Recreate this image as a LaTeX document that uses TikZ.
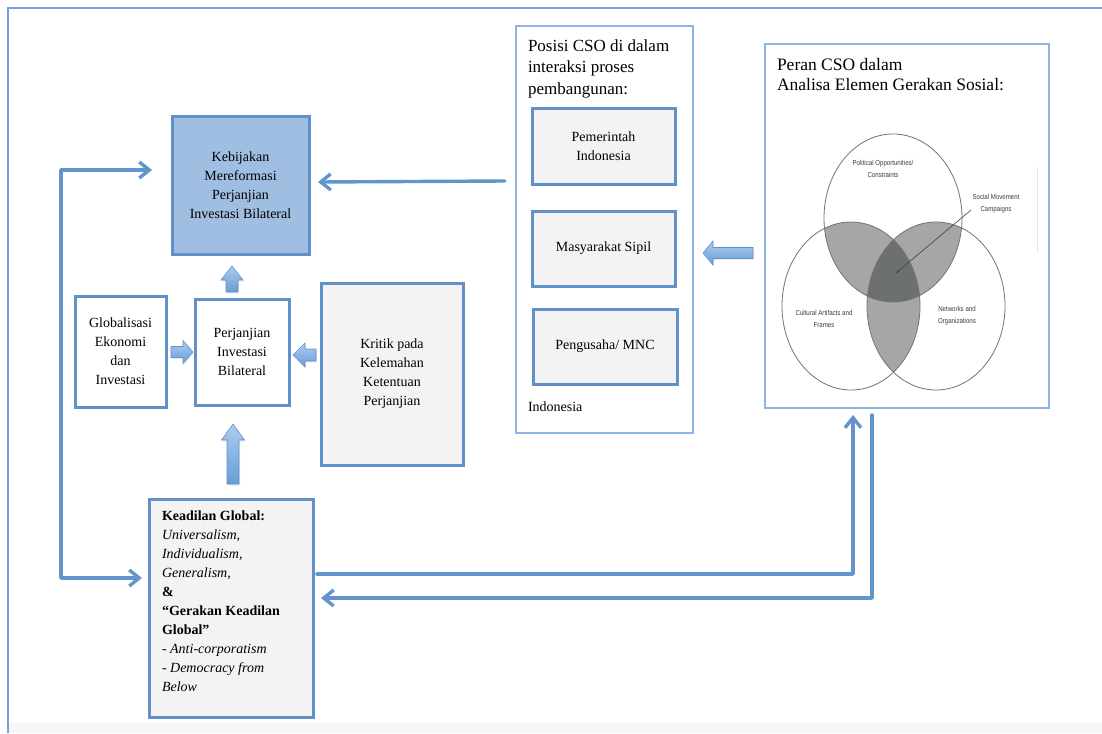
\documentclass[tikz,border=0pt]{standalone}
\usepackage{fontspec}
\setmainfont{Liberation Serif}
\newfontfamily\vennfont[FakeStretch=0.85]{Liberation Sans}
\usetikzlibrary{arrows.meta,calc,shadows}
\definecolor{frameblue}{RGB}{122,160,214}
\definecolor{boxblue}{RGB}{98,144,200}
\definecolor{kebfill}{RGB}{160,190,226}
\definecolor{boxgray}{RGB}{243,243,243}
\definecolor{lightblue}{RGB}{141,180,226}
\definecolor{connblue}{RGB}{100,148,204}
\definecolor{arrtop}{RGB}{172,205,240}
\definecolor{arrbot}{RGB}{104,156,214}
\definecolor{lensgray}{RGB}{166,166,166}
\definecolor{coregray}{RGB}{108,112,112}
\definecolor{bandgray}{RGB}{246,246,246}
\definecolor{venntext}{RGB}{60,60,60}
\begin{document}
\begin{tikzpicture}[x=1pt,y=-1pt,
  every node/.style={inner sep=0pt,outer sep=0pt},
  boxstyle/.style={draw=boxblue,line width=3pt,align=center,font=\fontsize{14}{19}\selectfont},
  outerbox/.style={draw=lightblue,line width=1.6pt,fill=white},
  conn/.style={draw=connblue,line width=3.4pt,line cap=round,line join=round,-{Straight Barb[length=10pt,width=16pt]}},
  loopconn/.style={draw=connblue,line width=3.4pt,line cap=round,line join=round,{Straight Barb[length=10pt,width=16pt]}-{Straight Barb[length=10pt,width=16pt]}},
  blockarr/.style={draw=boxblue,line width=0.6pt,top color=arrtop,bottom color=arrbot,drop shadow={opacity=0.15,shadow xshift=1pt,shadow yshift=-1.5pt}},
  vennlabel/.style={align=center,text=venntext,font=\vennfont\fontsize{7.2}{12}\selectfont},
  vennline/.style={draw=black!55,line width=0.8pt},
  titletext/.style={align=left,anchor=north west,font=\fontsize{17}{21.5}\selectfont}
]
\useasboundingbox (0,0) rectangle (1102,733);
% background frame
\fill[bandgray] (9,723) rectangle (1102,733);
\draw[frameblue,line width=1.8pt] (1102,8) -- (8,8) -- (8,733);

% left column boxes
\node[boxstyle,fill=kebfill,minimum width=137pt,minimum height=137pt] (kebijakan) at (240.5,185.5)
  {Kebijakan\\Mereformasi\\Perjanjian\\Investasi Bilateral};
\node[boxstyle,fill=white,minimum width=91pt,minimum height=111pt] (global) at (120.5,351.5)
  {Globalisasi\\Ekonomi\\dan\\Investasi};
\node[boxstyle,fill=white,minimum width=94pt,minimum height=106pt] (perjanjian) at (242,352)
  {Perjanjian\\Investasi\\Bilateral};
\node[boxstyle,fill=boxgray,minimum width=142pt,minimum height=182pt] (kritik) at (392,374)
  {Kritik pada\\Kelemahan\\Ketentuan\\Perjanjian};
\node[boxstyle,fill=boxgray,minimum width=164pt,minimum height=218pt] (keadilan) at (231,608) {};
\node[anchor=north west,align=left,font=\fontsize{14}{19}\selectfont] (keadilantext) at (162,511)
  {\textbf{Keadilan Global:}\\
   \textit{Universalism,}\\
   \textit{Individualism,}\\
   \textit{Generalism,}\\
   \textbf{\&}\\
   \textbf{“Gerakan Keadilan}\\
   \textbf{Global”}\\
   \textit{- Anti-corporatism}\\
   \textit{- Democracy from}\\
   \textit{Below}};

% Posisi CSO box
\node[outerbox,minimum width=177pt,minimum height=407pt] (posisi) at (604.5,229.5) {};
\node[titletext] (posisititle) at (528,39.5) {Posisi CSO di dalam\\interaksi proses\\pembangunan:};
\node[boxstyle,fill=boxgray,minimum width=143pt,minimum height=75pt] (pemerintah) at (603.5,146.5)
  {Pemerintah\\Indonesia};
\node[boxstyle,fill=boxgray,minimum width=143pt,minimum height=75pt] (masyarakat) at (603.5,248.5)
  {Masyarakat Sipil};
\node[boxstyle,fill=boxgray,minimum width=144pt,minimum height=75pt] (pengusaha) at (605,346.5)
  {Pengusaha/ MNC};
\node[anchor=west,font=\fontsize{14}{19}\selectfont] (indonesia) at (528,407) {Indonesia};

% Peran CSO box
\node[outerbox,minimum width=284pt,minimum height=364pt] (peran) at (907,226) {};
\node[titletext,font=\fontsize{17.5}{20}\selectfont] (peranitle) at (777,58.5) {Peran CSO dalam\\Analisa Elemen Gerakan Sosial:};

% Venn diagram
\coordinate (vt) at (893,218);
\coordinate (vl) at (851,306);
\coordinate (vr) at (936,306);
\begin{scope}
  \clip (vt) ellipse [x radius=69pt,y radius=84pt];
  \fill[lensgray] (vl) ellipse [x radius=69pt,y radius=84pt];
  \fill[lensgray] (vr) ellipse [x radius=69pt,y radius=84pt];
\end{scope}
\begin{scope}
  \clip (vl) ellipse [x radius=69pt,y radius=84pt];
  \fill[lensgray] (vr) ellipse [x radius=69pt,y radius=84pt];
\end{scope}
\begin{scope}
  \clip (vt) ellipse [x radius=69pt,y radius=84pt];
  \clip (vl) ellipse [x radius=69pt,y radius=84pt];
  \fill[coregray] (vr) ellipse [x radius=69pt,y radius=84pt];
\end{scope}
\draw[vennline] (vt) ellipse [x radius=69pt,y radius=84pt];
\draw[vennline] (vl) ellipse [x radius=69pt,y radius=84pt];
\draw[vennline] (vr) ellipse [x radius=69pt,y radius=84pt];
\node[vennlabel] (lpol) at (883,169) {Political Opportunities/\\Constraints};
\node[vennlabel] (lsoc) at (996,204) {Social Movement\\Campaigns};
\node[vennlabel] (lcul) at (824,319) {Cultural Artifacts and\\Frames};
\node[vennlabel] (lnet) at (957,316) {Networks and\\Organizations};
\coordinate (vcore) at (896,273);
\coordinate (vstart) at (971,210);
\draw[black!75,line width=0.6pt,-{Stealth[length=3.5pt,width=2.6pt]}] (vstart) -- (vcore);
\draw[black!10,line width=0.8pt] (1037,167) -- (1037,253);

% block arrows
\path[blockarr] (226,292) -- (226,280) -- (221,280) -- (232,266) -- (243,280) -- (238,280) -- (238,292) -- cycle;
\path[blockarr] (171,346.5) -- (183,346.5) -- (183,340.5) -- (193,352) -- (183,363.5) -- (183,357.5) -- (171,357.5) -- cycle;
\path[blockarr] (316,349) -- (305,349) -- (305,343) -- (293,355) -- (305,367) -- (305,361) -- (316,361) -- cycle;
\path[blockarr] (227,484) -- (227,440) -- (221.5,440) -- (233,424) -- (244.5,440) -- (239,440) -- (239,484) -- cycle;
\path[blockarr] (753,247.5) -- (713,247.5) -- (713,241) -- (703,253) -- (713,265) -- (713,258.5) -- (753,258.5) -- cycle;

% line connectors
\draw[conn] ($(posisi.west)+(-11,-48.5)$) -- ($(kebijakan.east)+(9,-3.5)$);
\coordinate (loopleft) at (61,400);
\draw[loopconn] ($(kebijakan.west)+(-20,-15.5)$) -| (loopleft) |- ($(keadilan.west)+(-7,-30)$);
\draw[conn] ($(keadilan.east)+(4,-34)$) -| ($(peran.south)+(-54,7)$);
\draw[conn] ($(peran.south)+(-35,7)$) |- ($(keadilan.east)+(8,-10)$);
\end{tikzpicture}
\end{document}
